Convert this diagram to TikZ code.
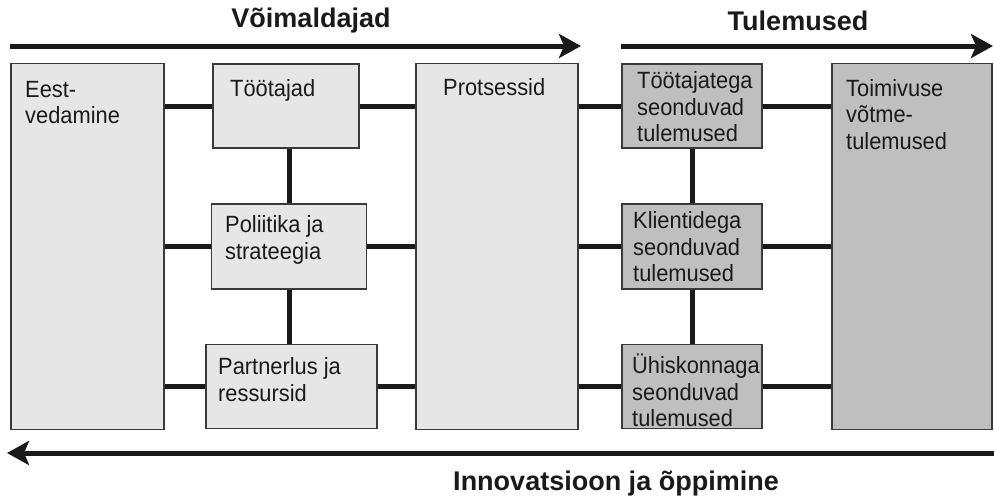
\documentclass[tikz,border=0pt]{standalone}
\usepackage{fontspec}
\setmainfont{Liberation Sans}
\newfontfamily\boxfont[FakeStretch=0.93]{Liberation Sans}
\usetikzlibrary{arrows.meta}
\definecolor{lightbox}{HTML}{E6E6E6}
\definecolor{darkbox}{HTML}{BFBFBF}
\definecolor{edge}{HTML}{3A3A3A}
\definecolor{ink}{HTML}{1A1A1A}
\tikzset{
  lbox/.style={draw=edge, line width=1.5pt, fill=lightbox, inner sep=0pt},
  dbox/.style={draw=edge, line width=1.5pt, fill=darkbox, inner sep=0pt},
  lbl/.style={anchor=north west, inner sep=0pt, align=left, text=ink,
    font=\boxfont\fontsize{23.5}{26.5}\selectfont},
  link/.style={line width=5pt, draw=ink},
  bigarrow/.style={line width=5pt, draw=ink,
    -{Stealth[length=22pt,width=24pt,inset=5pt]}},
  title/.style={inner sep=0pt, font=\fontsize{27}{30}\selectfont\bfseries, text=ink}
}
\begin{document}
\begin{tikzpicture}[x=1pt,y=-1pt]
\useasboundingbox (0,0) rectangle (994,498);
% boxes
\node[lbox, minimum width=153pt, minimum height=366pt] (eest) at (87.5,246.5) {};
\node[lbox, minimum width=146pt, minimum height=84pt] (toot) at (286,106) {};
\node[lbox, minimum width=155pt, minimum height=85pt] (pol) at (289,246.5) {};
\node[lbox, minimum width=171pt, minimum height=84pt] (part) at (291.5,386.5) {};
\node[lbox, minimum width=162pt, minimum height=366pt] (prot) at (497,246.5) {};
\node[dbox, minimum width=140pt, minimum height=84pt] (rtoot) at (692,106) {};
\node[dbox, minimum width=140pt, minimum height=85pt] (rkl) at (692,246.5) {};
\node[dbox, minimum width=140pt, minimum height=84pt] (ryh) at (692,386.5) {};
\node[dbox, minimum width=160pt, minimum height=366pt] (toim) at (912,246.5) {};
% labels
\node[lbl] (teest) at (25,78.5) {\strut Eest-\\vedamine};
\node[lbl] (ttoot) at (230,78) {\strut Töötajad};
\node[lbl] (tprot) at (443,77) {\strut Protsessid};
\node[lbl] (trtoot) at (637,70) {\strut Töötajatega\\seonduvad\\tulemused};
\node[lbl] (ttoim) at (846,77.5) {\strut Toimivuse\\võtme-\\tulemused};
\node[lbl] (tpol) at (225,214) {\strut Poliitika ja\\strateegia};
\node[lbl] (trkl) at (633,210) {\strut Klientidega\\seonduvad\\tulemused};
\node[lbl] (tpart) at (218,356) {\strut Partnerlus ja\\ressursid};
\node[lbl] (tryh) at (632,354) {\strut Ühiskonnaga\\seonduvad\\tulemused};
% horizontal links
\foreach \a/\b in {toot/prot, rtoot/toim, pol/prot, rkl/toim, part/prot, ryh/toim}{
  \draw[link] (\a.east) -- (\b.west |- \a.east);
}
\foreach \a/\b in {eest/toot, prot/rtoot, eest/pol, prot/rkl, eest/part, prot/ryh}{
  \draw[link] (\a.east |- \b.west) -- (\b.west);
}
% vertical links
\draw[link] (toot.south -| pol.north) -- (pol.north);
\draw[link] (pol.south) -- (pol.south |- part.north);
\draw[link] (rtoot.south) -- (rkl.north);
\draw[link] (rkl.south) -- (ryh.north);
% arrows and titles
\coordinate (a1s) at (10,46);
\coordinate (a1e) at (581,46);
\coordinate (a2s) at (621,46);
\coordinate (a2e) at (993,46);
\coordinate (a3s) at (994,453);
\coordinate (a3e) at (7,453);
\draw[bigarrow] (a1s) -- (a1e);
\draw[bigarrow] (a2s) -- (a2e);
\draw[bigarrow] (a3s) -- (a3e);
\node[title] (t1) at (311,21) {Võimaldajad};
\node[title] (t2) at (798,21) {Tulemused};
\node[title] (t3) at (616,484) {Innovatsioon ja õppimine};
\end{tikzpicture}
\end{document}
